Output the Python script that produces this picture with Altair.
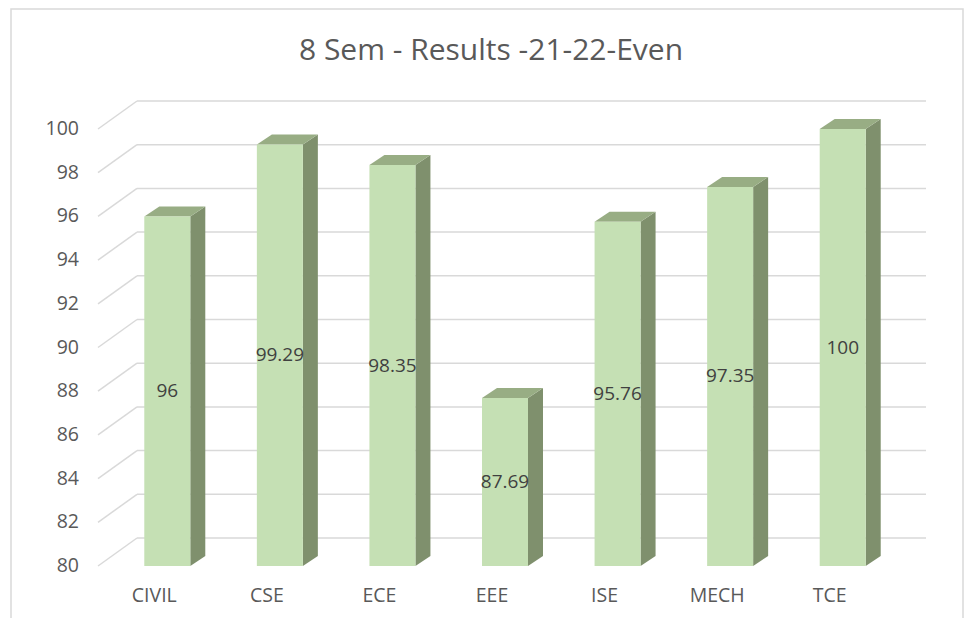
import altair as alt
import pandas as pd

# ---- data ----
title_text = "8 Sem - Results -21-22-Even"
categories = ["CIVIL", "CSE", "ECE", "EEE", "ISE", "MECH", "TCE"]
values = [96, 99.29, 98.35, 87.69, 95.76, 97.35, 100]
y_ticks = [80, 82, 84, 86, 88, 90, 92, 94, 96, 98, 100]

# ---- layout (chart coordinates, view starts at page 8,8) ----
W, H = 957, 610
X_RANGE = [90, 878]      # front plane left/right
Y_RANGE = [558, 121]     # value 80 -> 100
PXC = (X_RANGE[1] - X_RANGE[0]) / len(categories)
PXV = (Y_RANGE[0] - Y_RANGE[1]) / 20.0
DEPTH_X, DEPTH_Y = 15 / PXC, 10 / PXV   # bar depth in data units
BAR_L, BAR_R = -10 / PXC, 36 / PXC

FONT = "Open Sans"
GRID = "#d9d9d9"
FRONT = "#c5e0b4"
TOP = "#98ad84"
SIDE = "#7f906d"

xs = alt.Scale(domain=[0, len(categories)], range=X_RANGE, nice=False, zero=False)
ys = alt.Scale(domain=[80, 100], range=Y_RANGE, nice=False, zero=False)

centers = [i + 0.5 for i in range(len(categories))]
bars = pd.DataFrame({"cat": categories, "value": values, "c": centers})
bars["xl"] = bars["c"] + BAR_L
bars["xr"] = bars["c"] + BAR_R
bars["base"] = 80
bars["mid"] = (80 + bars["value"]) / 2
bars["label"] = [("%g" % v) for v in values]

side_rows, top_rows = [], []
for k, v, c in zip(categories, values, centers):
    xl, xr = c + BAR_L, c + BAR_R
    side_rows.append({"cat": k, "x": xr, "y": v, "y2": 80})
    side_rows.append({"cat": k, "x": xr + DEPTH_X, "y": v + DEPTH_Y, "y2": 80 + DEPTH_Y})
    top_rows.append({"cat": k, "y": v, "x": xl, "x2": xr})
    top_rows.append({"cat": k, "y": v + DEPTH_Y, "x": xl + DEPTH_X, "x2": xr + DEPTH_X})
side = pd.DataFrame(side_rows)
top = pd.DataFrame(top_rows)

grid = pd.DataFrame({"v": y_ticks})
grid["x0"] = 0
grid["x1"] = len(categories)
grid["lab"] = [str(v) for v in y_ticks]

border = alt.Chart(pd.DataFrame({"a": [0]})).mark_rect(
    fill="white", stroke=GRID, strokeWidth=1.5
).encode(x=alt.value(3), x2=alt.value(955), y=alt.value(1), y2=alt.value(700))

title = alt.Chart(pd.DataFrame({"t": [title_text]})).mark_text(
    font=FONT, fontSize=30, color="#595959", align="center", baseline="alphabetic"
).encode(x=alt.value(483), y=alt.value(52), text="t:N")

back = alt.Chart(grid).mark_rule(
    color=GRID, strokeWidth=1.5, xOffset=39, x2Offset=40, yOffset=-28
).encode(
    x=alt.X("x0:Q", scale=xs, axis=None),
    x2="x1:Q",
    y=alt.Y("v:Q", scale=ys, axis=None),
)

diag = alt.Chart(grid).mark_rule(
    color=GRID, strokeWidth=1.5, x2Offset=39, y2Offset=-28
).encode(
    x=alt.X("x0:Q", scale=xs, axis=None),
    x2="x0:Q",
    y=alt.Y("v:Q", scale=ys, axis=None),
    y2="v:Q",
)

ylabels = alt.Chart(grid).mark_text(
    font=FONT, fontSize=19.5, color="#595959", align="right", baseline="middle", dx=-19
).encode(
    x=alt.X("x0:Q", scale=xs, axis=None),
    y=alt.Y("v:Q", scale=ys, axis=None),
    text="lab:N",
)

side_face = alt.Chart(side).mark_area(color=SIDE, opacity=1, interpolate="linear").encode(
    x=alt.X("x:Q", scale=xs, axis=None),
    y=alt.Y("y:Q", scale=ys, axis=None),
    y2="y2:Q",
    detail="cat:N",
)

top_face = alt.Chart(top).mark_area(color=TOP, opacity=1, orient="horizontal", interpolate="linear").encode(
    y=alt.Y("y:Q", scale=ys, axis=None),
    x=alt.X("x:Q", scale=xs, axis=None),
    x2="x2:Q",
    detail="cat:N",
)

front_face = alt.Chart(bars).mark_rect(color=FRONT).encode(
    x=alt.X("xl:Q", scale=xs, axis=None),
    x2="xr:Q",
    y=alt.Y("base:Q", scale=ys, axis=None),
    y2="value:Q",
)

vlabels = alt.Chart(bars).mark_text(
    font=FONT, fontSize=19, color="#404040", align="center", baseline="middle", dx=13
).encode(
    x=alt.X("c:Q", scale=xs, axis=None),
    y=alt.Y("mid:Q", scale=ys, axis=None),
    text="label:N",
)

xlabels = alt.Chart(bars).mark_text(
    font=FONT, fontSize=19.5, color="#595959", align="center", baseline="alphabetic", dy=36
).encode(
    x=alt.X("c:Q", scale=xs, axis=None),
    y=alt.Y("base:Q", scale=ys, axis=None),
    text="cat:N",
)

chart = alt.layer(
    border, title, back, diag, ylabels, side_face, top_face, front_face, vlabels, xlabels
).properties(
    width=W, height=H, autosize=alt.AutoSizeParams(type="none"), padding=0
).configure_view(stroke=None)

chart.save("out.html", embed_options={"renderer": "svg", "actions": False})
